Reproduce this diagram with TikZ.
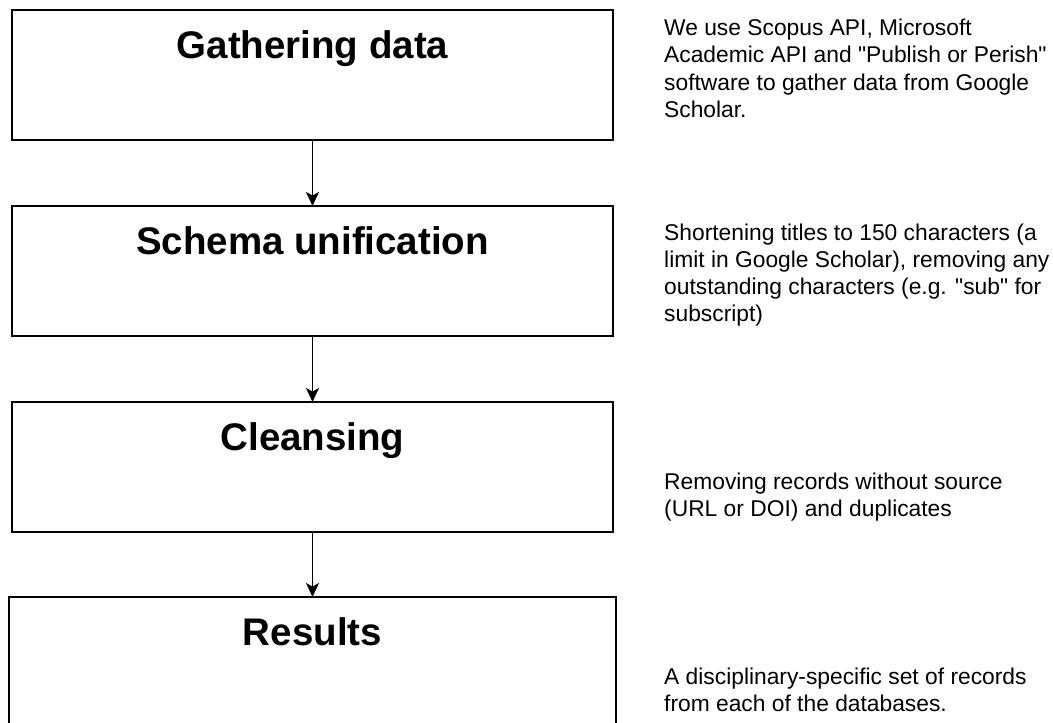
\documentclass[tikz,border=0pt]{standalone}
\usepackage{fontspec}
\setmainfont{Liberation Sans}[Ligatures=TeXOff]
\usetikzlibrary{arrows.meta}
\begin{document}
\begin{tikzpicture}[x=1pt,y=-1pt,
  stage/.style={draw=black, line width=1.6pt, minimum height=130pt,
    anchor=north west, inner sep=0, outer sep=0},
  title/.style={anchor=base, inner sep=0, font=\fontsize{38.5}{46}\selectfont\bfseries},
  note/.style={anchor=base west, inner sep=0, font=\fontsize{22.8}{27}\selectfont},
  flow/.style={line width=1.3pt, -{Stealth[length=14pt,width=13pt,inset=3.5pt]}}]
  \clip (0,0) rectangle (1053,723);
  \fill[white] (0,0) rectangle (1053,723);

  % process stages
  \node[stage, minimum width=601pt] (b1) at (12,10) {};
  \node[stage, minimum width=601pt] (b2) at (12,206) {};
  \node[stage, minimum width=601pt] (b3) at (12,402) {};
  \node[stage, minimum width=607pt] (b4) at (9,597) {};

  \node[title] (t1) at ([yshift=-48pt]b1.north) {Gathering data};
  \node[title] (t2) at ([yshift=-48pt]b2.north) {Schema unification};
  \node[title] (t3) at ([yshift=-48pt]b3.north) {Cleansing};
  \node[title] (t4) at ([yshift=-48pt]b4.north) {Results};

  % connectors between stages
  \draw[flow] (b1.south) -- (b2.north);
  \draw[flow] (b2.south) -- (b3.north);
  \draw[flow] (b3.south) -- (b4.north);

  % descriptions beside each stage
  \node[note] (n1) at (664,35) {\vtop{\baselineskip=27.6pt\hbox{We use Scopus API, Microsoft}\hbox{Academic API and "Publish or Perish"}\hbox{software to gather data from Google}\hbox{Scholar.}}};
  \node[note] (n2) at (664,240) {\vtop{\hbox{Shortening titles to 150 characters (a}\hbox{limit in Google Scholar), removing any}\hbox{outstanding characters (e.g. "sub" for}\hbox{subscript)}}};
  \node[note] (n3) at (664,489) {\vtop{\hbox{Removing records without source}\hbox{(URL or DOI) and duplicates}}};
  \node[note] (n4) at (664,684) {\vtop{\hbox{A disciplinary-specific set of records}\hbox{from each of the databases.}}};
\end{tikzpicture}
\end{document}
